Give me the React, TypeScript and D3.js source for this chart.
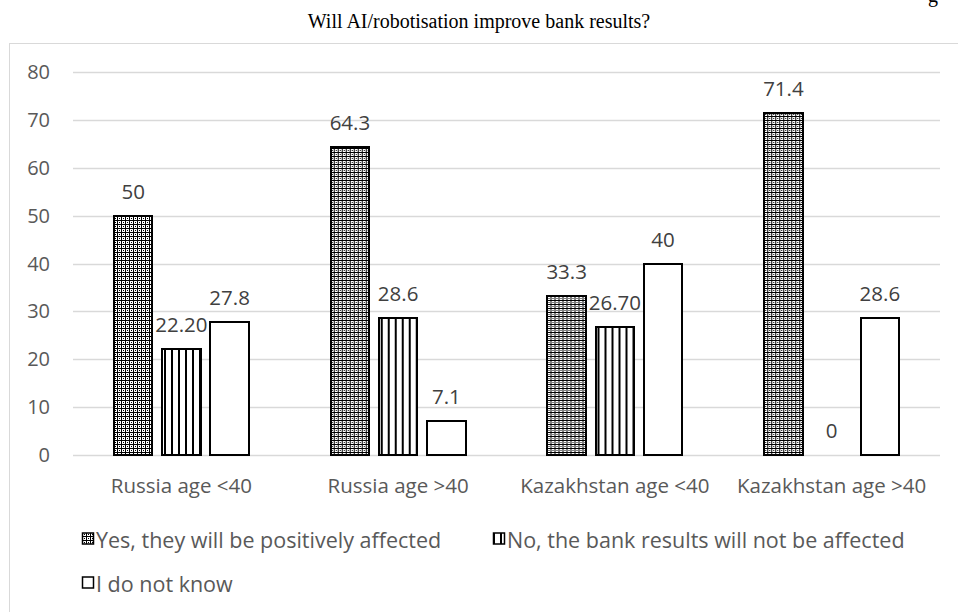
import React from 'react';
import * as d3 from 'd3';

const categories = ['Russia age <40', 'Russia age >40', 'Kazakhstan age <40', 'Kazakhstan age >40'];
const seriesNames = ['Yes, they will be positively affected', 'No, the bank results will not be affected', 'I do not know'];
const yesValues = [50, 64.3, 33.3, 71.4];
const noValues = [22.2, 28.6, 26.7, 0];
const dontKnowValues = [27.8, 7.1, 40, 28.6];
const yesLabels = ['50', '64.3', '33.3', '71.4'];
const noLabels = ['22.20', '28.6', '26.70', '0'];
const dontKnowLabels = ['27.8', '7.1', '40', '28.6'];
const yTicks = [0, 10, 20, 30, 40, 50, 60, 70, 80];

const W = 958;
const H = 612;
const margin = { top: 72, right: 18, bottom: 157, left: 73 };
const FONT = '"Open Sans", sans-serif';
const TEXT = '#595959';

const series = [
  { name: seriesNames[0], values: yesValues, labels: yesLabels, fill: 'url(#pat-yes)' },
  { name: seriesNames[1], values: noValues, labels: noLabels, fill: 'url(#pat-no)' },
  { name: seriesNames[2], values: dontKnowValues, labels: dontKnowLabels, fill: '#ffffff' },
];

export default function App() {
  const plotW = W - margin.left - margin.right;
  const plotH = H - margin.top - margin.bottom;

  const x0 = d3.scaleBand().domain(categories).range([0, plotW]);
  const x1 = d3
    .scaleBand()
    .domain(series.map((s) => s.name))
    .range([x0.bandwidth() / 2 - 67.5, x0.bandwidth() / 2 + 67.5])
    .paddingInner(0.2);
  const y = d3.scaleLinear().domain([0, 80]).range([plotH, 0]);

  // legend rows, Excel-style wrap
  const legendItems = [
    { s: series[0], x: 82, y: 548 },
    { s: series[1], x: 493, y: 548 },
    { s: series[2], x: 82, y: 592 },
  ];

  return (
    <svg width={W} height={H} style={{ position: 'absolute', left: 0, top: 0, background: '#fff' }}>
      <defs>
        <pattern id="pat-yes" width="4" height="4" patternUnits="userSpaceOnUse">
          <rect width="4" height="4" fill="#fff" />
          <rect x="0" y="0" width="4" height="1" fill="#000" />
          <rect x="0" y="0" width="1" height="4" fill="#000" />
          <rect x="2" y="2" width="1" height="1" fill="#000" />
        </pattern>
        <pattern id="pat-no" width="7" height="7" patternUnits="userSpaceOnUse">
          <rect width="7" height="7" fill="#fff" />
          <rect x="0" y="0" width="2" height="7" fill="#000" />
        </pattern>
      </defs>

      {/* title */}
      <text x={479} y={28} textAnchor="middle" fontFamily='"Liberation Serif", "Times New Roman", serif' fontSize={20} fill="#000">
        Will AI/robotisation improve bank results?
      </text>
      <text x={928} y={2} fontFamily='"Liberation Serif", serif' fontSize={20} fill="#000">g</text>

      {/* chart area border */}
      <rect x={9.5} y={43.5} width={980} height={600} fill="none" stroke="#d9d9d9" strokeWidth={1} />

      <g transform={`translate(${margin.left},${margin.top})`}>
        {yTicks.map((t) => (
          <g key={t}>
            <line x1={0} x2={plotW} y1={Math.round(y(t)) + 0.5} y2={Math.round(y(t)) + 0.5} stroke="#d9d9d9" strokeWidth={1.5} />
            <text x={-23} y={y(t) + 7} textAnchor="end" fontFamily={FONT} fontSize={20} fill={TEXT}>
              {t}
            </text>
          </g>
        ))}

        {categories.map((c, i) => (
          <g key={c} transform={`translate(${x0(c)},0)`}>
            {series.map((s) => {
              const v = s.values[i];
              const bx = x1(s.name) as number;
              return (
                <g key={s.name}>
                  {v > 0 && (
                    <rect
                      x={bx}
                      y={y(v)}
                      width={x1.bandwidth()}
                      height={y(0) - y(v)}
                      fill={s.fill}
                      stroke="#000"
                      strokeWidth={2}
                      shapeRendering="crispEdges"
                    />
                  )}
                  <text
                    x={bx + x1.bandwidth() / 2}
                    y={y(v) - 17}
                    textAnchor="middle"
                    fontFamily={FONT}
                    fontSize={20.5}
                    fill="#404040"
                  >
                    {s.labels[i]}
                  </text>
                </g>
              );
            })}
            <text x={x0.bandwidth() / 2} y={plotH + 38} textAnchor="middle" fontFamily={FONT} fontSize={20.5} fill={TEXT}>
              {c}
            </text>
          </g>
        ))}
      </g>

      {legendItems.map((l) => (
        <g key={l.s.name} transform={`translate(${l.x},${l.y})`}>
          <rect x={0.5} y={-15} width={11} height={11} fill={l.s.fill} stroke="#000" strokeWidth={1.5} />
          <text x={14} y={0} fontFamily={FONT} fontSize={21.5} fill={TEXT}>
            {l.s.name}
          </text>
        </g>
      ))}
    </svg>
  );
}
